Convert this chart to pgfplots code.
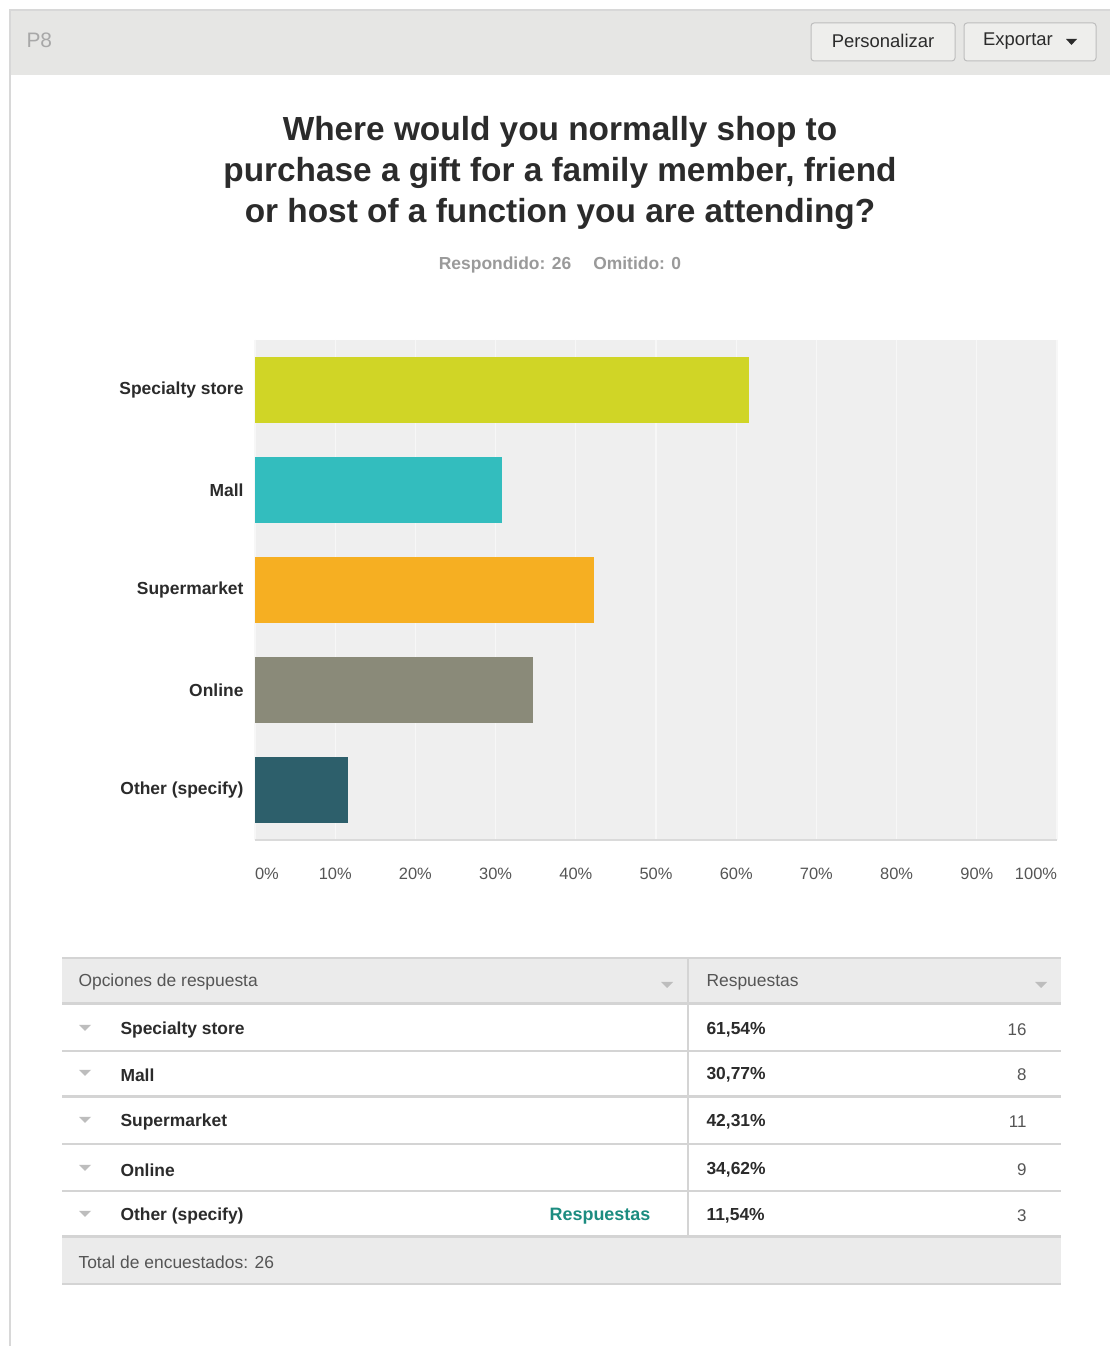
\documentclass[border=0pt]{standalone}
\usepackage{pgfplots}
\pgfplotsset{compat=1.18}
\usepackage{fontspec}
\setmainfont{Liberation Sans}
\definecolor{headbg}{HTML}{E6E6E4}
\definecolor{cardline}{HTML}{D8D8D8}
\definecolor{ptxt}{HTML}{A8A8A8}
\definecolor{btnfill}{HTML}{EEEEEC}
\definecolor{btnline}{HTML}{BDBDBD}
\definecolor{dark}{HTML}{2B2B2B}
\definecolor{subcol}{HTML}{9A9A9A}
\definecolor{plotbg}{HTML}{EFEFEF}
\definecolor{gridc}{HTML}{F7F7F7}
\definecolor{baseln}{HTML}{DADADA}
\definecolor{tickc}{HTML}{555555}
\definecolor{cA}{HTML}{D0D526}
\definecolor{cB}{HTML}{33BDBE}
\definecolor{cC}{HTML}{F6AF22}
\definecolor{cD}{HTML}{8A8A79}
\definecolor{cE}{HTML}{2D5F6B}
\definecolor{tabbg}{HTML}{EBEBEB}
\definecolor{tabln}{HTML}{D4D4D4}
\definecolor{tri}{HTML}{BDBDBD}
\definecolor{teal}{HTML}{1C8C80}
\begin{document}
\begin{tikzpicture}[x=1bp,y=1bp]
\path[use as bounding box] (0,0) rectangle (1110,1346);
\fill[white] (0,0) rectangle (1110,1346);
% card frame and header
\fill[headbg] (10,1271) rectangle (1110,1336);
\draw[cardline, line width=1.2bp] (10,0) -- (10,1336) -- (1110,1336);
\node[anchor=west, text=ptxt, font=\fontsize{21}{24}\selectfont] at (23,1306) {P8};
\draw[btnline, fill=btnfill, rounded corners=3bp, line width=1bp] (811,1285) rectangle (955,1323);
\node[text=dark, font=\fontsize{18.5}{21}\selectfont] at (883,1305) {Personalizar};
\draw[btnline, fill=btnfill, rounded corners=3bp, line width=1bp] (964,1285) rectangle (1096,1323);
\node[text=dark, font=\fontsize{18.5}{21}\selectfont] at (1018,1305) {Exportar};
\fill[dark] (1066,1307) -- (1077,1307) -- (1071.5,1301) -- cycle;
% title
\node[align=center, text=dark, font=\fontsize{33.5}{41.5}\selectfont\bfseries] at (560,1173) {Where would you normally shop to\\purchase a gift for a family member, friend\\or host of a function you are attending?};
\node[text=subcol, font=\fontsize{17.5}{20}\selectfont\bfseries] at (560,1081) {Respondido: 26\hspace{22bp}Omitido: 0};
% chart
\begin{axis}[
  at={(255bp,506bp)}, anchor=south west,
  scale only axis, width=802bp, height=500bp,
  xbar, bar width=66bp, /pgf/bar shift=0pt,
  xmin=0, xmax=100, ymin=-0.5, ymax=4.5, y dir=reverse,
  ytick={0,1,2,3,4},
  yticklabels={Specialty store, Mall, Supermarket, Online, Other (specify)},
  xtick={0,10,...,100},
  xticklabel={\pgfmathparse{int(round(\tick))}\ifnum\pgfmathresult=0 \makebox[0pt][l]{0\%}\else\ifnum\pgfmathresult=100 \makebox[0pt][r]{100\%}\else\pgfmathresult\%\fi\fi},
  axis background/.style={fill=plotbg},
  axis x line*=bottom, axis y line*=left,
  x axis line style={draw=baseln, line width=2bp, -},
  y axis line style={draw=none},
  xmajorgrids, major grid style={draw=gridc, line width=1.2bp},
  major tick length=0pt,
  xticklabel style={text=tickc, font=\fontsize{16.5}{19}\selectfont, yshift=-25bp},
  yticklabel style={text=dark, font=\fontsize{17.5}{20}\selectfont\bfseries, xshift=-8bp},
  clip=false,
]
\addplot[fill=cA, draw=none] coordinates {(61.54,0)};
\addplot[fill=cB, draw=none] coordinates {(30.77,1)};
\addplot[fill=cC, draw=none] coordinates {(42.31,2)};
\addplot[fill=cD, draw=none] coordinates {(34.62,3)};
\addplot[fill=cE, draw=none] coordinates {(11.54,4)};
\end{axis}
% table
\fill[tabbg] (62,342) rectangle (1061,388);
\fill[tabbg] (62,62) rectangle (1061,109);
\draw[tabln, line width=1.5bp] (62,388) -- (1061,388);
\draw[tabln, line width=3bp] (62,342) -- (1061,342);
\draw[tabln, line width=2bp] (62,295) -- (1061,295);
\draw[tabln, line width=3bp] (62,249) -- (1061,249);
\draw[tabln, line width=2bp] (62,202) -- (1061,202);
\draw[tabln, line width=2bp] (62,155) -- (1061,155);
\draw[tabln, line width=3bp] (62,109) -- (1061,109);
\draw[tabln, line width=2bp] (62,62) -- (1061,62);
\draw[tabln, line width=1.5bp] (688,388) -- (688,109);
\node[anchor=west, text=tickc, font=\fontsize{17.5}{20}\selectfont] at (75,364) {Opciones de respuesta};
\node[anchor=west, text=tickc, font=\fontsize{17.5}{20}\selectfont] at (703,364) {Respuestas};
\fill[tri] (661,364) -- (673,364) -- (667,358) -- cycle;
\fill[tri] (1035,364) -- (1047,364) -- (1041,358) -- cycle;
\foreach \yy/\lab/\pc/\n in {316/{Specialty store}/{61,54\%}/16, 271/{Mall}/{30,77\%}/8, 224/{Supermarket}/{42,31\%}/11, 176/{Online}/{34,62\%}/9, 130/{Other (specify)}/{11,54\%}/3}{
  \fill[tri] (79,\yy+5) -- (91,\yy+5) -- (85,\yy-1) -- cycle;
  \node[anchor=west, text=dark, font=\fontsize{17.5}{20}\selectfont\bfseries] at (117,\yy) {\lab};
  \node[anchor=west, text=dark, font=\fontsize{17.5}{20}\selectfont\bfseries] at (703,\yy) {\pc};
  \node[anchor=east, text=tickc, font=\fontsize{17}{20}\selectfont] at (1030,\yy) {\n};
}
\node[text=teal, font=\fontsize{18}{20}\selectfont\bfseries] at (600,130) {Respuestas};
\node[anchor=west, text=tickc, font=\fontsize{17.5}{20}\selectfont] at (75,84) {Total de encuestados: 26};
\end{tikzpicture}
\end{document}
